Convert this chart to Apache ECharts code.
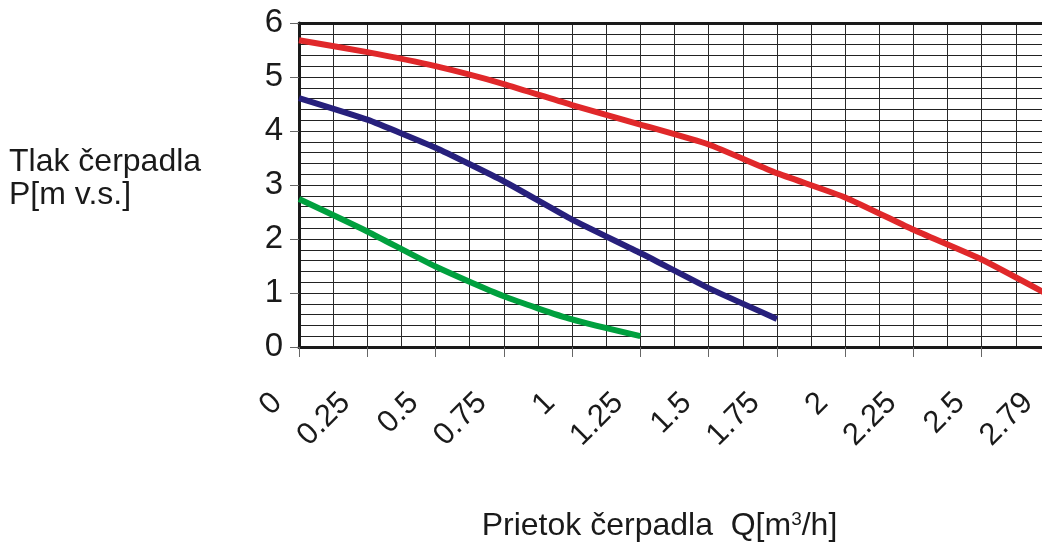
<!DOCTYPE html>
<html>
<head>
<meta charset="utf-8">
<script src="https://cdn.jsdelivr.net/npm/echarts@6/dist/echarts.min.js"></script>
<style>
  html, body { margin: 0; padding: 0; background: #fff; }
  #chart { width: 1042px; height: 547px; }
</style>
</head>
<body>
<div id="chart"></div>
<script>
// flow Q [m3/h] categories
var flowLabels = ['0', '0.25', '0.5', '0.75', '1', '1.25', '1.5', '1.75', '2', '2.25', '2.5', '2.79'];
// pump head P [m v.s.] per speed
var headHigh = [5.68, 5.46, 5.2, 4.87, 4.48, 4.12, 3.75, 3.22, 2.77, 2.17, 1.62, 0.95];
var headMid = [4.61, 4.21, 3.69, 3.07, 2.36, 1.74, 1.09, 0.52];
var headLow = [2.74, 2.14, 1.49, 0.94, 0.51, 0.20];

var font = 'Liberation Sans, Arial, sans-serif';
var ink = '#1a1a1a';

var chart = echarts.init(document.getElementById('chart'));
var option = {
    backgroundColor: '#fff',
    animation: false,
    title: {
        text: 'Tlak čerpadla\nP[m v.s.]',
        left: 4,
        top: 141,
        textStyle: { fontSize: 32, fontWeight: 'normal', color: ink, lineHeight: 33, fontFamily: font }
    },
    grid: { left: 299, top: 23, right: -8, bottom: 200, outerBoundsMode: 'none', containLabel: false },
    xAxis: [
        {
            type: 'category',
            data: flowLabels,
            boundaryGap: false,
            position: 'bottom',
            axisLine: { lineStyle: { color: ink, width: 3 } },
            axisTick: { show: true, length: 10, interval: 0, lineStyle: { color: '#666', width: 1 } },
            splitLine: { show: false },
            axisLabel: {
                interval: 0, rotate: 45, fontSize: 31, color: ink, fontFamily: font,
                margin: 29, padding: [0, 31, 0, 0]
            },
            name: 'Prietok čerpadla  Q[m{sup|3}/h]',
            nameLocation: 'middle',
            nameGap: 163,
            nameTextStyle: {
                fontSize: 32, color: ink, fontFamily: font, padding: [0, 30, 0, 0],
                rich: { sup: { fontSize: 19, color: ink, fontFamily: font, verticalAlign: 'top', padding: [0, 0, 14, 0] } }
            }
        },
        {
            type: 'value',
            min: 0,
            max: 11,
            interval: 0.5,
            position: 'top',
            axisLine: { show: true, onZero: false, lineStyle: { color: ink, width: 3 } },
            axisTick: { show: false },
            axisLabel: { show: false },
            splitLine: { show: true, lineStyle: { color: '#2a2a2a', width: 1 } }
        }
    ],
    yAxis: {
        type: 'value',
        min: 0,
        max: 6,
        interval: 1,
        axisLine: { show: true, lineStyle: { color: ink, width: 3 } },
        axisTick: { show: true, length: 9, lineStyle: { color: '#666', width: 1 } },
        axisLabel: { fontSize: 33, color: ink, fontFamily: font, margin: 16, padding: [8, 0, 0, 0] },
        splitLine: { show: true, lineStyle: { color: '#222', width: 1 } },
        minorTick: { show: false, splitNumber: 5 },
        minorSplitLine: { show: true, lineStyle: { color: '#222', width: 1 } }
    },
    series: [
        {
            type: 'line', xAxisIndex: 0, data: headHigh, symbol: 'none', smooth: 0.15,
            lineStyle: { color: '#e0282a', width: 6 }, z: 5
        },
        {
            type: 'line', xAxisIndex: 0, data: headMid, symbol: 'none', smooth: 0.15,
            lineStyle: { color: '#27207c', width: 6 }, z: 5
        },
        {
            type: 'line', xAxisIndex: 0, data: headLow, symbol: 'none', smooth: 0.2,
            lineStyle: { color: '#00a03e', width: 6 }, z: 5
        }
    ]
};
chart.setOption(option);
</script>
</body>
</html>
